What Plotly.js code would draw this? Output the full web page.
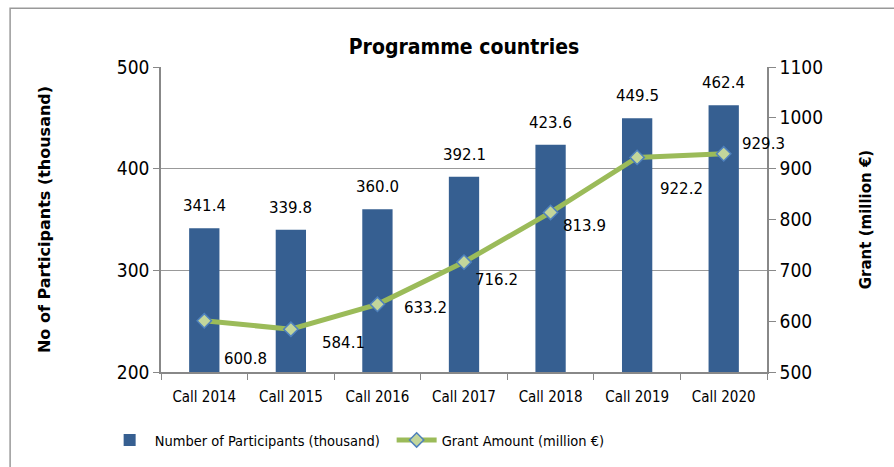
<!DOCTYPE html>
<html>
<head>
<meta charset="utf-8">
<script src="https://cdn.plot.ly/plotly-3.0.1.min.js"></script>
<style>
  html, body { margin: 0; padding: 0; background: #fff; }
  #chart { width: 894px; height: 467px; }
</style>
</head>
<body>
<div id="chart"></div>
<script>
var calls = ['Call 2014', 'Call 2015', 'Call 2016', 'Call 2017', 'Call 2018', 'Call 2019', 'Call 2020'];
var participants = [341.4, 339.8, 360.0, 392.1, 423.6, 449.5, 462.4];
var grant = [600.8, 584.1, 633.2, 716.2, 813.9, 922.2, 929.3];

// label offsets for the grant line, in pixels
var grantShiftX = [41, 53, 48, 32, 34, 44, 40];
var grantShiftY = [-38, -14, -4, -18, -14, -32, 10];

var labelFont = { family: 'DejaVu Sans', size: 15, color: '#000' };

var bars = {
    x: calls,
    y: participants,
    type: 'bar',
    name: 'Number of Participants (thousand)',
    marker: { color: '#365f91' },
    hoverinfo: 'x+y'
};

var line = {
    x: calls,
    y: grant,
    yaxis: 'y2',
    type: 'scatter',
    mode: 'lines+markers',
    name: 'Grant Amount (million €)',
    line: { color: '#9bbb59', width: 5 },
    marker: { symbol: 'diamond', size: 11, color: '#c3d69b', line: { color: '#4f81bd', width: 1.5 } },
    cliponaxis: false
};

var barLabels = participants.map(function(v, i) {
    return {
        x: calls[i], y: v, xref: 'x', yref: 'y',
        text: v.toFixed(1), showarrow: false,
        yanchor: 'middle', yshift: 22,
        font: labelFont
    };
});

var lineLabels = grant.map(function(v, i) {
    return {
        x: calls[i], y: v, xref: 'x', yref: 'y2',
        text: v.toFixed(1), showarrow: false,
        xshift: grantShiftX[i], yshift: grantShiftY[i],
        font: labelFont
    };
});

var axisFont = { family: 'DejaVu Sans Condensed', size: 19, color: '#000' };

var layout = {
    width: 894,
    height: 467,
    margin: { l: 161, r: 127, t: 67, b: 95, autoexpand: false },
    paper_bgcolor: '#fff',
    plot_bgcolor: '#fff',
    title: {
        text: '<b>Programme countries</b>',
        font: { family: 'DejaVu Sans Condensed', size: 21, color: '#000' },
        x: 0.519, xanchor: 'center', y: 0.9, yanchor: 'middle'
    },
    bargap: 0.65,
    xaxis: {
        type: 'category',
        range: [-0.5, 6.5],
        tickson: 'boundaries',
        ticks: 'outside',
        ticklen: 6,
        tickcolor: '#888',
        showline: true,
        linecolor: '#888',
        linewidth: 1.5,
        showgrid: false,
        ticklabelstandoff: 10,
        tickfont: { family: 'DejaVu Sans Condensed', size: 15, color: '#000' }
    },
    yaxis: {
        range: [200, 500],
        dtick: 100,
        ticks: 'outside',
        ticklen: 6,
        tickcolor: '#888',
        showline: true,
        linecolor: '#888',
        linewidth: 1.5,
        gridcolor: '#999',
        gridwidth: 1,
        zeroline: false,
        tickfont: axisFont,
        title: {
            text: '<b>No of Participants (thousand)</b>',
            font: { family: 'DejaVu Sans', size: 16, color: '#000' },
            standoff: 62
        }
    },
    yaxis2: {
        range: [500, 1100],
        dtick: 100,
        overlaying: 'y',
        side: 'right',
        ticks: 'outside',
        ticklen: 7,
        tickcolor: '#888',
        showline: true,
        linecolor: '#888',
        linewidth: 1.5,
        showgrid: false,
        zeroline: false,
        tickfont: axisFont,
        title: {
            text: '<b>Grant (million €)</b>',
            font: { family: 'DejaVu Sans', size: 15, color: '#000' },
            standoff: 38
        }
    },
    legend: {
        orientation: 'h',
        x: -0.093, xanchor: 'left',
        y: -0.223, yanchor: 'middle',
        font: { family: 'DejaVu Sans Condensed', size: 14.5, color: '#000' },
        itemwidth: 40,
        entrywidth: 232,
        entrywidthmode: 'pixels'
    },
    annotations: barLabels.concat(lineLabels),
    shapes: [{
        type: 'rect', xref: 'paper', yref: 'paper',
        x0: -0.249, x1: 1.25, y0: -0.4, y1: 1.193,
        line: { color: '#999', width: 1.5 }, fillcolor: 'rgba(0,0,0,0)', layer: 'below'
    }],
    showlegend: true
};

Plotly.newPlot('chart', [bars, line], layout, { displayModeBar: false });
</script>
</body>
</html>
